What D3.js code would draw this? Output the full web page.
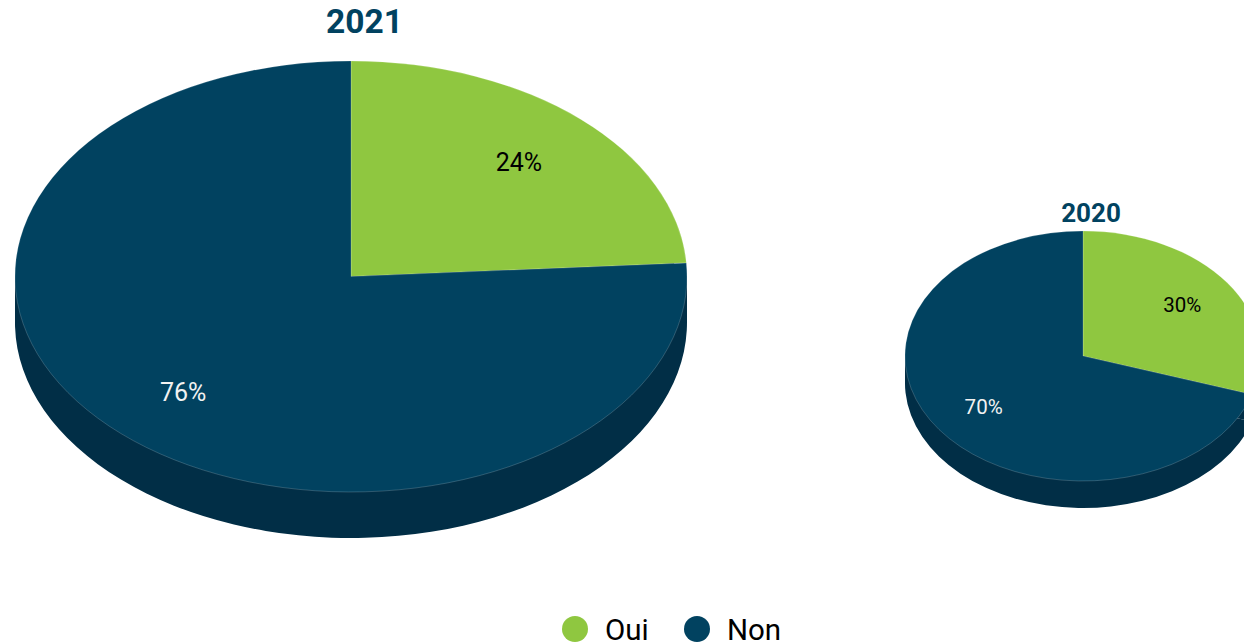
<!DOCTYPE html>
<html>
<head>
<meta charset="utf-8">
<script src="https://cdn.jsdelivr.net/npm/d3@7"></script>
<style>
html,body{margin:0;padding:0;background:#fff;overflow:hidden}
svg{display:block}
text{font-family:Roboto,sans-serif}
</style>
</head>
<body>
<svg id="c" width="1244" height="644"></svg>
<script>
const categories = ["Oui", "Non"];
const colors = ["#8fc740", "#014260"];
const sideColor = "#012e46";
const values2021 = [24, 76];
const values2020 = [30, 70];

const svg = d3.select("#c");
const pie = d3.pie().sort(null);
const arc = d3.arc().innerRadius(0).outerRadius(1);

function drawPie(cfg) {
  const arcs = pie(cfg.values);
  const g = svg.append("g").attr("transform", `translate(${cfg.cx},${cfg.cy})`);
  // extruded side
  const scaled = g.append("g").attr("transform", `translate(0,${cfg.depth}) scale(${cfg.rx},${cfg.ry})`);
  scaled.selectAll("path").data(arcs).join("path")
    .attr("d", arc).attr("fill", sideColor);
  g.append("rect").attr("x", -cfg.rx).attr("y", 0)
    .attr("width", cfg.rx * 2).attr("height", cfg.depth).attr("fill", sideColor);
  // top face
  const top = g.append("g").attr("transform", `scale(${cfg.rx},${cfg.ry})`);
  top.selectAll("path").data(arcs).join("path")
    .attr("d", arc)
    .attr("fill", (d, i) => colors[i])
    .attr("stroke", "#ffffff").attr("stroke-opacity", 0.3)
    .attr("stroke-width", 0.6).attr("vector-effect", "non-scaling-stroke");
  // percentage labels
  const labelArc = d3.arc().innerRadius(cfg.labelK).outerRadius(cfg.labelK);
  g.selectAll("text.lab").data(arcs).join("text")
    .attr("class", "lab")
    .attr("x", d => labelArc.centroid(d)[0] * cfg.rx)
    .attr("y", d => labelArc.centroid(d)[1] * cfg.ry)
    .attr("dy", cfg.labelDy)
    .attr("text-anchor", "middle")
    .attr("font-size", cfg.labelSize)
    .attr("fill", (d, i) => i === 0 ? "#000000" : "#f2f2f2")
    .text(d => d.value + "%");
  // title
  svg.append("text").attr("x", cfg.titleX).attr("y", cfg.titleY)
    .attr("text-anchor", "middle").attr("font-weight", 700)
    .attr("font-size", cfg.titleSize).attr("fill", colors[1])
    .text(cfg.title);
}

drawPie({values: values2021, title: "2021", cx: 351, cy: 276.5, rx: 336, ry: 215.5, depth: 46,
         labelK: 0.73, labelSize: 25, labelDy: "0.38em", titleX: 364.5, titleY: 33, titleSize: 33.5});
drawPie({values: values2020, title: "2020", cx: 1083, cy: 356, rx: 178, ry: 125, depth: 27,
         labelK: 0.69, labelSize: 20.5, labelDy: "0.35em", titleX: 1091, titleY: 222, titleSize: 26});

// legend
const legendX = d3.scaleOrdinal().domain(categories).range([575, 697]);
const legend = svg.selectAll("g.leg").data(categories).join("g").attr("class", "leg")
  .attr("transform", d => `translate(${legendX(d)},629)`);
legend.append("circle").attr("r", 13).attr("fill", (d, i) => colors[i]);
legend.append("text").attr("x", 30).attr("dy", "0.36em")
  .attr("font-size", 29.5).attr("fill", "#000").text(d => d);
</script>
</body>
</html>
